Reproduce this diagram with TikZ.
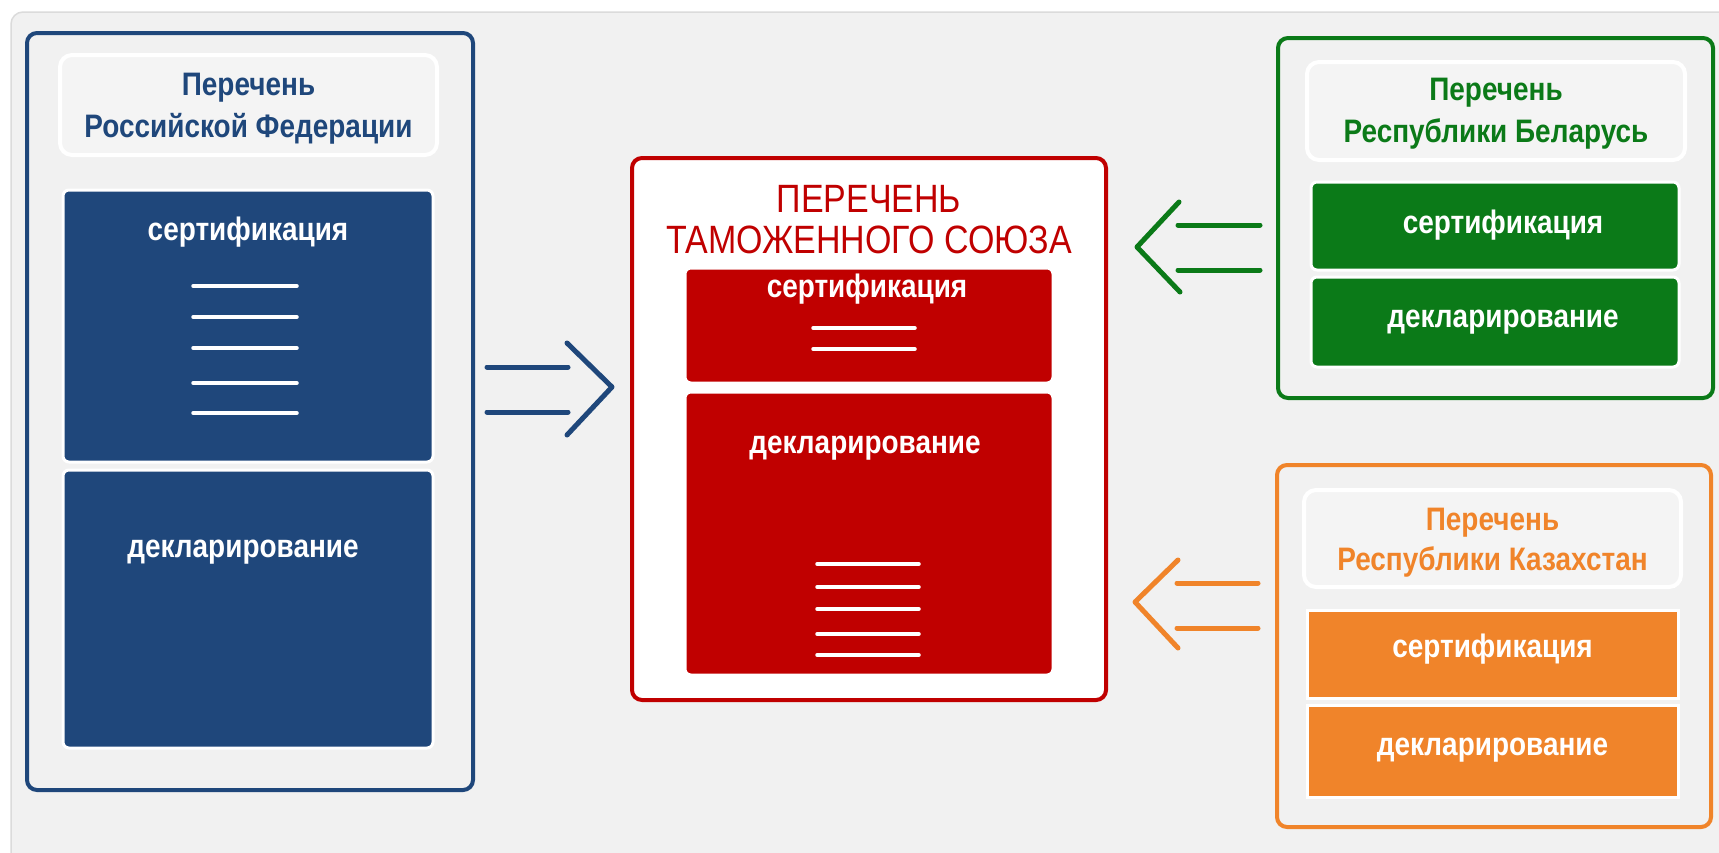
\documentclass[tikz,border=0pt]{standalone}
\usepackage{fontspec}
\setmainfont[FakeStretch=0.86]{Liberation Sans}
\definecolor{cblue}{HTML}{1F477B}
\definecolor{cred}{HTML}{C00000}
\definecolor{cgreen}{HTML}{0B7A18}
\definecolor{corange}{HTML}{F0842A}
\definecolor{panel}{HTML}{F1F1F1}
\definecolor{tfill}{HTML}{F4F4F4}
\begin{document}
\begin{tikzpicture}[x=1pt,y=-1pt,
  outerbox/.style={draw=#1, line width=4pt, rounded corners=10pt, inner sep=0pt},
  titlebox/.style={draw=white, fill=tfill, line width=4pt, rounded corners=12pt, inner sep=0pt},
  subbox/.style={draw=white, fill=#1, line width=3pt, rounded corners=6pt, inner sep=0pt},
  sqbox/.style={draw=white, fill=#1, line width=3pt, inner sep=0pt},
  ttl/.style={text=#1, font=\fontsize{32.5}{38}\selectfont\bfseries, anchor=base, inner sep=0pt},
  sub/.style={text=white, font=\fontsize{32.5}{38}\selectfont\bfseries, anchor=base, inner sep=0pt},
  rtl/.style={text=cred, font=\fontsize{39.5}{44}\selectfont, anchor=base, inner sep=0pt},
  wl/.style={draw=white, line width=3.5pt, line cap=round},
  arr/.style={draw=#1, line width=5pt, line cap=round, line join=round},
]
\useasboundingbox (0,0) rectangle (1719,852);
\fill[white] (0,0) rectangle (1719,852);
\begin{scope}
\clip (0,0) rectangle (1719,852);
\draw[fill=panel, draw=black!14, line width=1.5pt, rounded corners=12pt] (11,12) rectangle (1760,900);
\end{scope}

% ---------- Blue ----------
\node[outerbox=cblue, minimum width=446pt, minimum height=757pt] (bout) at (250,411.5) {};
\node[titlebox, minimum width=377pt, minimum height=100pt] (btitle) at (248.5,105) {};
\node[ttl=cblue] (bt1) at (248.5,95) {Перечень};
\node[ttl=cblue] (bt2) at (248.5,137) {Российской Федерации};
\node[subbox=cblue, minimum width=370pt, minimum height=272pt] (bcert) at (248,326) {};
\node[sub] (bcertt) at (248,240) {сертификация};
\foreach \yy [count=\i] in {286,317,348,383,413}
  \draw[wl] (193,\yy) coordinate (bl\i a) -- (297,\yy) coordinate (bl\i b);
\node[subbox=cblue, minimum width=370pt, minimum height=278pt] (bdecl) at (248,609) {};
\node[sub] (bdeclt) at (243,557) {декларирование};

% ---------- Blue arrow ----------
\coordinate (ba1) at (487,367); \coordinate (ba2) at (568,367);
\coordinate (ba3) at (487,412); \coordinate (ba4) at (568,412);
\coordinate (bc1) at (567,343); \coordinate (bc2) at (612,387); \coordinate (bc3) at (567,435);
\draw[arr=cblue] (ba1) -- (ba2);
\draw[arr=cblue] (ba3) -- (ba4);
\draw[arr=cblue] (bc1) -- (bc2) -- (bc3);

% ---------- Red ----------
\node[outerbox=cred, fill=white, minimum width=474pt, minimum height=542pt] (rout) at (869,429) {};
\node[rtl] (rt1) at (869,212) {ПЕРЕЧЕНЬ};
\node[rtl] (rt2) at (869,253) {ТАМОЖЕННОГО СОЮЗА};
\node[subbox=cred, minimum width=368pt, minimum height=115pt] (rcert) at (869,325.5) {};
\node[sub] (rcertt) at (867,297) {сертификация};
\draw[wl] (813,328) -- (915,328);
\draw[wl] (813,349) -- (915,349);
\node[subbox=cred, minimum width=368pt, minimum height=283pt] (rdecl) at (869,533.5) {};
\node[sub] (rdeclt) at (865,453) {декларирование};
\foreach \yy in {564,587,609,634,655}
  \draw[wl] (817,\yy) -- (919,\yy);

% ---------- Green ----------
\node[outerbox=cgreen, minimum width=435pt, minimum height=360pt] (gout) at (1495.5,218) {};
\node[titlebox, minimum width=378pt, minimum height=98pt] (gtitle) at (1496,111) {};
\node[ttl=cgreen] (gt1) at (1496,100) {Перечень};
\node[ttl=cgreen] (gt2) at (1496,142) {Республики Беларусь};
\node[subbox=cgreen, minimum width=368pt, minimum height=88pt] (gcert) at (1495,226) {};
\node[sub] (gcertt) at (1503,233) {сертификация};
\node[subbox=cgreen, minimum width=368pt, minimum height=90pt] (gdecl) at (1495,322) {};
\node[sub] (gdeclt) at (1503,327) {декларирование};

% ---------- Green arrow ----------
\coordinate (ga1) at (1178,225); \coordinate (ga2) at (1260,225);
\coordinate (ga3) at (1178,270); \coordinate (ga4) at (1260,270);
\coordinate (gc1) at (1179,202); \coordinate (gc2) at (1137,247); \coordinate (gc3) at (1180,292);
\draw[arr=cgreen] (ga1) -- (ga2);
\draw[arr=cgreen] (ga3) -- (ga4);
\draw[arr=cgreen] (gc1) -- (gc2) -- (gc3);

% ---------- Orange ----------
\node[outerbox=corange, minimum width=434pt, minimum height=362pt] (oout) at (1494,646) {};
\node[titlebox, minimum width=377pt, minimum height=97pt] (otitle) at (1492.5,538.5) {};
\node[ttl=corange] (ot1) at (1492.5,530) {Перечень};
\node[ttl=corange] (ot2) at (1492.5,570) {Республики Казахстан};
\node[sqbox=corange, minimum width=371pt, minimum height=88pt] (ocert) at (1492.5,654) {};
\node[sub] (ocertt) at (1492.5,657) {сертификация};
\node[sqbox=corange, minimum width=371pt, minimum height=92pt] (odecl) at (1492.5,751) {};
\node[sub] (odeclt) at (1492.5,755) {декларирование};

% ---------- Orange arrow ----------
\coordinate (oa1) at (1177,583); \coordinate (oa2) at (1258,583);
\coordinate (oa3) at (1177,628); \coordinate (oa4) at (1258,628);
\coordinate (oc1) at (1178,560); \coordinate (oc2) at (1135,602); \coordinate (oc3) at (1178,648);
\draw[arr=corange] (oa1) -- (oa2);
\draw[arr=corange] (oa3) -- (oa4);
\draw[arr=corange] (oc1) -- (oc2) -- (oc3);
\end{tikzpicture}
\end{document}
